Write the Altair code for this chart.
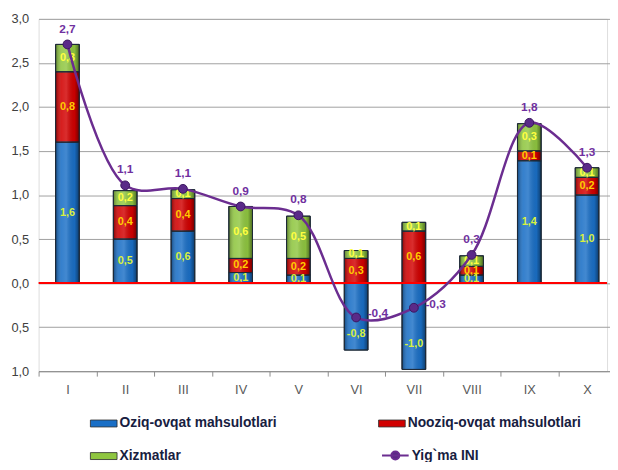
import altair as alt
import pandas as pd

months = ["I", "II", "III", "IV", "V", "VI", "VII", "VIII", "IX", "X"]
series_names = ["Oziq-ovqat mahsulotlari", "Nooziq-ovqat mahsulotlari", "Xizmatlar"]
oziq = [1.6, 0.5, 0.59, 0.12, 0.09, -0.76, -0.98, 0.09, 1.39, 1.0]
nooziq = [0.8, 0.38, 0.37, 0.16, 0.19, 0.28, 0.59, 0.10, 0.11, 0.2]
xizmat = [0.31, 0.17, 0.10, 0.59, 0.48, 0.09, 0.10, 0.12, 0.31, 0.11]
line_name = "Yig`ma INI"
ini = [2.71, 1.11, 1.07, 0.87, 0.77, -0.39, -0.28, 0.32, 1.82, 1.31]
y_ticks = [-1.0, -0.5, 0.0, 0.5, 1.0, 1.5, 2.0, 2.5, 3.0]

bar_colors = ["#1a6fc6", "#d10000", "#8fc640"]
seg_label_colors = ["#d8f040", "#ffcc00", "#ffff40"]
purple = "#6b2d90"
FONT = "Liberation Sans"

rows = []
for i, m in enumerate(months):
    for k, vals in enumerate([oziq, nooziq, xizmat]):
        rows.append({"month": m, "series": series_names[k], "order": k, "value": vals[i]})
bars_df = pd.DataFrame(rows)
line_df = pd.DataFrame({"month": months, "value": ini, "series": [line_name] * len(months)})
zero_df = pd.DataFrame({"z": [0]})

fmt = "replace(replace(format(datum.value, '.1f'), '.', ','), '\u2212', '-')"

x_enc = alt.X(
    "month:N", sort=months,
    scale=alt.Scale(range=[0, 585], paddingInner=0, paddingOuter=0),
    axis=alt.Axis(title=None, labelAngle=0, tickBand="extent", tickSize=5,
                  tickColor="#8c8c8c", domainColor="#8c8c8c", labelColor="#595959",
                  labelFont=FONT, labelFontSize=13, labelPadding=8, grid=False),
)
y_scale = alt.Scale(domain=[-1, 3], nice=False, zero=False)
y_axis = alt.Axis(title=None, values=y_ticks, domain=False, ticks=False,
                  labelExpr="replace(format(abs(datum.value), '.1f'), '.', ',')",
                  labelFont=FONT, labelFontSize=13, labelColor="#404040", labelPadding=10,
                  grid=True, gridColor="#a0a0a0", gridWidth=1)


def Y(field):
    return alt.Y(field, scale=y_scale, axis=y_axis)


stacked = alt.Chart(bars_df).transform_stack(
    stack="value", groupby=["month"], as_=["y0", "y1"],
    sort=[alt.SortField("order", order="ascending")],
).transform_calculate(mid="(datum.y0 + datum.y1) / 2", label=fmt)

bars = stacked.mark_bar(size=24, stroke="#1d2a38", strokeWidth=1).encode(
    x=x_enc, y=Y("y0:Q"), y2="y1:Q",
    color=alt.Color("series:N", scale=alt.Scale(domain=series_names, range=bar_colors),
                    legend=alt.Legend(title=None, orient="none", legendX=52, legendY=396,
                                      direction="horizontal",
                                      columns=2, columnPadding=100, rowPadding=12,
                                      symbolType="M-1,-0.26H1V0.26H-1Z", symbolSize=729,
                                      symbolStrokeColor="#2a2a2a", symbolStrokeWidth=0.8,
                                      labelFont=FONT, labelFontSize=14, labelFontWeight="bold",
                                      labelColor="#17203f", labelOffset=2, labelLimit=400,
                                      padding=0)),
)

shade = stacked.mark_bar(
    size=24, stroke="#1d2a38", strokeWidth=1,
    fill=alt.LinearGradient(gradient="linear", x1=0, x2=1, y1=0, y2=0, stops=[
        alt.GradientStop(offset=0, color="rgba(0,0,0,0.35)"),
        alt.GradientStop(offset=0.25, color="rgba(255,255,255,0.12)"),
        alt.GradientStop(offset=0.45, color="rgba(255,255,255,0.18)"),
        alt.GradientStop(offset=0.8, color="rgba(0,0,0,0.05)"),
        alt.GradientStop(offset=1, color="rgba(0,0,0,0.45)"),
    ]),
).encode(x=x_enc, y=Y("y0:Q"), y2="y1:Q")

seg_labels = []
for k, name in enumerate(series_names):
    src = stacked.transform_filter(alt.datum.series == name)
    seg_labels.append(
        src.transform_filter("datum.value >= 0").mark_text(
            font=FONT, fontSize=11, fontWeight="bold", color=seg_label_colors[k]
        ).encode(x=x_enc, y=Y("mid:Q"), text="label:N")
    )
    seg_labels.append(
        src.transform_filter("datum.value < 0").mark_text(
            font=FONT, fontSize=11, fontWeight="bold", color=seg_label_colors[k], dy=18
        ).encode(x=x_enc, y=Y("mid:Q"), text="label:N")
    )

zero_rule = alt.Chart(zero_df).mark_rule(color="#ff0000", strokeWidth=2).encode(y=alt.datum(0))

line_sym = "M-1,0H1M-0.3,0A0.3,0.3 0 1,0 0.3,0A0.3,0.3 0 1,0 -0.3,0Z"
line = alt.Chart(line_df).mark_line(interpolate="catmull-rom", strokeWidth=2.5).encode(
    x=x_enc, y=Y("value:Q"),
    stroke=alt.Stroke("series:N", scale=alt.Scale(domain=[line_name], range=[purple]),
                      legend=alt.Legend(title=None, orient="none", legendX=347, legendY=428,
                                        symbolType=line_sym, symbolSize=729,
                                        symbolStrokeWidth=2, symbolFillColor="#5a2a85",
                                        labelFont=FONT, labelFontSize=14, labelFontWeight="bold",
                                        labelColor="#17203f", labelOffset=2, labelLimit=400,
                                        padding=0)),
)

points = alt.Chart(line_df).mark_circle(size=80, color="#5a2a88", opacity=1,
                                        stroke="#3a1660", strokeWidth=1).encode(
    x=x_enc, y=Y("value:Q"))

line_text = alt.Chart(line_df).transform_calculate(label=fmt)
lbl_pos = line_text.transform_filter("datum.value >= 0").mark_text(
    font=FONT, fontSize=12, fontWeight="bold", color="#7030a0", dy=-16
).encode(x=x_enc, y=Y("value:Q"), text="label:N")
lbl_neg = line_text.transform_filter("datum.value < 0").mark_text(
    font=FONT, fontSize=12, fontWeight="bold", color="#7030a0", dx=22, dy=-4
).encode(x=x_enc, y=Y("value:Q"), text="label:N")

chart = alt.layer(bars, shade, *seg_labels, zero_rule, line, points, lbl_pos, lbl_neg).properties(
    width=576, height=357,
    autosize=alt.AutoSizeParams(type="none"),
    padding={"left": 31, "top": 8, "right": 3, "bottom": 89},
).configure_view(stroke=None).configure(font=FONT, background="white")

chart.save("out.html", embed_options={"renderer": "svg", "actions": False})
